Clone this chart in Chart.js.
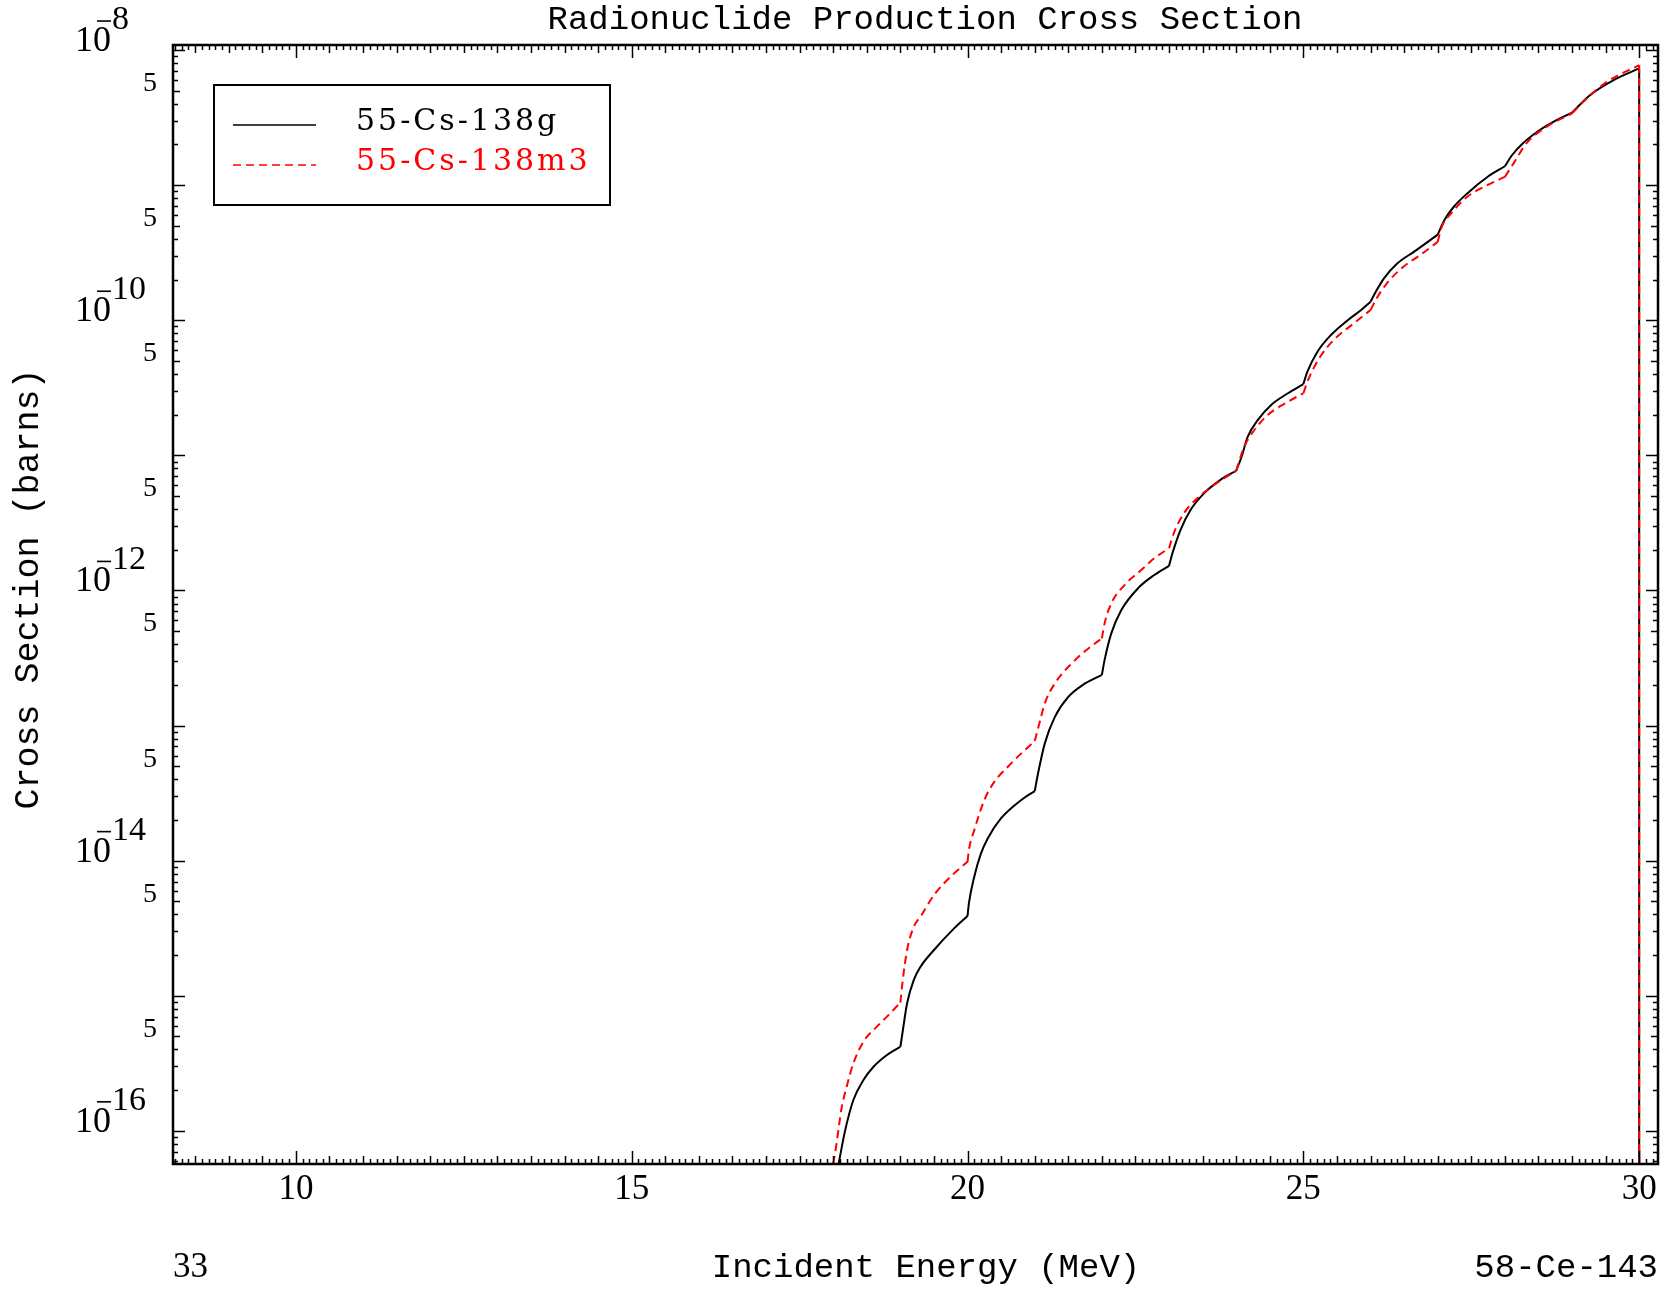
<!DOCTYPE html>
<html>
<head>
<meta charset="utf-8">
<title>Radionuclide Production Cross Section</title>
<script src="https://cdn.jsdelivr.net/npm/chart.js@4.4.1/dist/chart.umd.min.js"></script>
<style>
  html, body { margin: 0; padding: 0; background: #fff; }
  canvas { display: block; }
</style>
</head>
<body>
<canvas id="xsChart" width="1674" height="1291"></canvas>
<script>
// Cross sections (barns) vs incident energy (MeV)
const energyG = [18.08, 18.18, 18.30, 18.45, 18.60, 18.80, 19.00,
    19.03, 19.10, 19.20, 19.30, 19.50, 19.80, 20.00,
    20.02, 20.10, 20.20, 20.30, 20.50, 20.80, 21.00,
    21.05, 21.15, 21.30, 21.50, 21.75, 22.00,
    22.04, 22.14, 22.29, 22.54, 22.78, 23.00,
    23.05, 23.17, 23.32, 23.52, 23.76, 24.00,
    24.08, 24.17, 24.32, 24.52, 24.77, 25.00,
    25.06, 25.21, 25.41, 25.66, 25.86, 26.00,
    26.08, 26.20, 26.40, 26.65, 27.00,
    27.10, 27.24, 27.44, 27.74, 28.00,
    28.10, 28.25, 28.52, 28.77, 29.00,
    29.27, 29.62, 30.00, 30.00];
const sigmaG = [5.7e-17, 1.02e-16, 1.69e-16, 2.38e-16, 2.98e-16, 3.64e-16, 4.19e-16,
    5.27e-16, 8.8e-16, 1.31e-15, 1.64e-15, 2.18e-15, 3.15e-15, 3.89e-15,
    4.83e-15, 7.6e-15, 1.13e-14, 1.46e-14, 2.06e-14, 2.81e-14, 3.27e-14,
    4.43e-14, 7.38e-14, 1.16e-13, 1.63e-13, 2.05e-13, 2.37e-13,
    3.05e-13, 4.81e-13, 7.16e-13, 1.04e-12, 1.30e-12, 1.52e-12,
    1.88e-12, 2.80e-12, 3.94e-12, 5.23e-12, 6.56e-12, 7.69e-12,
    9.77e-12, 1.37e-11, 1.82e-11, 2.36e-11, 2.88e-11, 3.37e-11,
    4.16e-11, 5.85e-11, 7.77e-11, 1.0e-10, 1.19e-10, 1.37e-10,
    1.63e-10, 2.04e-10, 2.64e-10, 3.22e-10, 4.3e-10,
    5.52e-10, 6.92e-10, 8.69e-10, 1.15e-9, 1.38e-9,
    1.65e-9, 2.0e-9, 2.56e-9, 3.03e-9, 3.44e-9,
    4.65e-9, 6.0e-9, 7.31e-9, 1e-22];

const energyM = [18.00, 18.05, 18.12, 18.20, 18.30, 18.45, 18.65, 18.80, 19.00,
    19.03, 19.10, 19.20, 19.30, 19.50, 19.80, 20.00,
    20.02, 20.10, 20.25, 20.40, 20.60, 20.80, 21.00,
    21.07, 21.15, 21.30, 21.55, 21.80, 22.00,
    22.04, 22.14, 22.34, 22.59, 22.78, 23.00,
    23.07, 23.22, 23.42, 23.67, 24.00,
    24.12, 24.27, 24.47, 24.77, 25.00,
    25.07, 25.25, 25.45, 25.75, 26.00,
    26.09, 26.24, 26.49, 26.74, 27.00,
    27.06, 27.20, 27.44, 27.74, 28.00,
    28.13, 28.32, 28.62, 29.00,
    29.22, 29.52, 30.00, 30.00];
const sigmaM = [5.7e-17, 8.07e-17, 1.43e-16, 2.12e-16, 3.16e-16, 4.57e-16, 5.9e-16, 7.0e-16, 8.9e-16,
    1.24e-15, 2.18e-15, 3.24e-15, 3.85e-15, 5.56e-15, 8.05e-15, 9.8e-15,
    1.2e-14, 1.68e-14, 2.81e-14, 3.84e-14, 4.95e-14, 6.22e-14, 7.67e-14,
    1.04e-13, 1.46e-13, 2.05e-13, 2.88e-13, 3.72e-13, 4.42e-13,
    5.70e-13, 8.02e-13, 1.10e-12, 1.42e-12, 1.73e-12, 2.05e-12,
    2.65e-12, 3.72e-12, 4.81e-12, 6.03e-12, 7.69e-12,
    1.16e-11, 1.54e-11, 1.99e-11, 2.49e-11, 2.88e-11,
    3.61e-11, 5.37e-11, 7.13e-11, 9.48e-11, 1.19e-10,
    1.45e-10, 1.87e-10, 2.49e-10, 3.04e-10, 3.8e-10,
    4.9e-10, 6.18e-10, 8.2e-10, 1.0e-9, 1.15e-9,
    1.45e-9, 2.04e-9, 2.70e-9, 3.40e-9,
    4.39e-9, 5.82e-9, 7.74e-9, 1e-22];

const seriesNames = ['55-Cs-138g', '55-Cs-138m3'];
const seriesColors = ['#000000', '#ff0000'];
const xTickValues = [10, 15, 20, 25, 30];
const yLabelExponents = [-16, -14, -12, -10, -8];
const xLimits = [8.17, 30.28];
const yLimits = [5.68e-17, 1.09e-8];

const chartTitle = 'Radionuclide Production Cross Section';
const xTitle = 'Incident Energy (MeV)';
const yTitle = 'Cross Section (barns)';
const footLeft = '33';
const footRight = '58-Ce-143';

const MONO = "'Liberation Mono', monospace";
const SERIF = "'Liberation Serif', serif";
const DASH = [8, 5];

// the curves have sharp kinks at whole MeV; smooth each piece between them separately
function splitAtKinks(xs, ys) {
    const parts = [];
    let cur = [];
    for (let i = 0; i < xs.length; i++) {
        const p = { x: xs[i], y: ys[i] };
        cur.push(p);
        const kink = i > 0 && i < xs.length - 1 && Math.abs(xs[i] - Math.round(xs[i])) < 1e-9;
        if (kink) {
            parts.push(cur);
            cur = [p];
        }
    }
    if (cur.length > 1) parts.push(cur);
    return parts;
}

function buildDatasets(xs, ys, idx) {
    return splitAtKinks(xs, ys).map(pts => ({
        label: seriesNames[idx],
        data: pts,
        borderColor: seriesColors[idx],
        borderWidth: 2,
        borderDash: idx === 1 ? DASH : [],
        pointRadius: 0,
        cubicInterpolationMode: pts.length > 2 ? 'monotone' : 'default',
        tension: 0,
        fill: false,
        order: idx === 1 ? 0 : 1
    }));
}

// frame, inward ticks, tick labels, titles and the boxed legend
const decorations = {
    id: 'decorations',
    afterDraw(chart) {
        const ctx = chart.ctx;
        const area = chart.chartArea;
        const xs = chart.scales.x;
        const ys = chart.scales.y;

        ctx.save();
        ctx.strokeStyle = '#000';
        ctx.fillStyle = '#000';

        // ticks on all four sides, pointing into the plot
        ctx.lineWidth = 1.5;
        ctx.beginPath();
        for (let i = Math.ceil(xs.min * 10); i <= Math.floor(xs.max * 10); i++) {
            const px = Math.round(xs.getPixelForValue(i / 10)) + 0.5;
            let len = 5;
            if (i % 50 === 0) len = 13;
            else if (i % 5 === 0) len = 8;
            ctx.moveTo(px, area.bottom); ctx.lineTo(px, area.bottom - len);
            ctx.moveTo(px, area.top); ctx.lineTo(px, area.top + len);
        }
        for (let e = -17; e <= -8; e++) {
            for (let k = 1; k <= 9; k++) {
                const v = k * Math.pow(10, e);
                if (v < ys.min || v > ys.max) continue;
                const py = Math.round(ys.getPixelForValue(v)) + 0.5;
                const len = k === 1 ? 12 : (k === 5 ? 7 : 5);
                ctx.moveTo(area.left, py); ctx.lineTo(area.left + len, py);
                ctx.moveTo(area.right, py); ctx.lineTo(area.right - len, py);
            }
        }
        ctx.stroke();

        // frame
        ctx.lineWidth = 2.5;
        ctx.strokeRect(area.left, area.top, area.right - area.left, area.bottom - area.top);

        // x tick labels
        ctx.font = '35px ' + SERIF;
        ctx.textAlign = 'center';
        ctx.textBaseline = 'middle';
        xTickValues.forEach(v => {
            ctx.fillText(String(v), xs.getPixelForValue(v), area.bottom + 26);
        });

        // y labels: 10 with exponent at even decades, "5" at each 5 x 10^n
        yLabelExponents.forEach(e => {
            const py = ys.getPixelForValue(Math.pow(10, e));
            ctx.font = '36px ' + SERIF;
            ctx.textAlign = 'right';
            ctx.textBaseline = 'alphabetic';
            ctx.fillText('10', 111, py + 1);
            ctx.font = '34px ' + SERIF;
            ctx.textAlign = 'left';
            ctx.fillText(String(Math.abs(e)), 112, py - 21);
            ctx.lineWidth = 1.6;
            ctx.beginPath();
            ctx.moveTo(97, py - 29); ctx.lineTo(111, py - 29);
            ctx.stroke();
        });
        ctx.font = '28px ' + SERIF;
        ctx.textAlign = 'right';
        ctx.textBaseline = 'middle';
        for (let e = -17; e <= -9; e++) {
            const v = 5 * Math.pow(10, e);
            if (v < ys.min || v > ys.max) continue;
            ctx.fillText('5', 157, ys.getPixelForValue(v) - 7);
        }

        // titles
        ctx.font = '34px ' + MONO;
        ctx.textAlign = 'center';
        ctx.textBaseline = 'middle';
        ctx.fillText(chartTitle, 925, 20);
        ctx.fillText(xTitle, 926, 1268);
        ctx.textAlign = 'right';
        ctx.fillText(footRight, area.right, 1268);
        ctx.font = '35px ' + SERIF;
        ctx.textAlign = 'left';
        ctx.fillText(footLeft, area.left, 1268);

        ctx.save();
        ctx.translate(29, 589);
        ctx.rotate(-Math.PI / 2);
        ctx.font = '35px ' + MONO;
        ctx.textAlign = 'center';
        ctx.textBaseline = 'middle';
        ctx.fillText(yTitle, 0, 0);
        ctx.restore();

        // legend box
        ctx.fillStyle = '#fff';
        ctx.fillRect(214, 85, 396, 120);
        ctx.lineWidth = 2;
        ctx.strokeStyle = '#000';
        ctx.strokeRect(214, 85, 396, 120);
        seriesNames.forEach((name, i) => {
            const ly = 125 + i * 40;
            ctx.strokeStyle = seriesColors[i];
            ctx.lineWidth = 1.5;
            ctx.setLineDash(i === 1 ? DASH : []);
            ctx.beginPath();
            ctx.moveTo(233, ly); ctx.lineTo(316, ly);
            ctx.stroke();
            ctx.setLineDash([]);
            ctx.fillStyle = seriesColors[i];
            ctx.font = "30px 'DejaVu Serif', serif";
            ctx.letterSpacing = '3px';
            ctx.textAlign = 'left';
            ctx.textBaseline = 'middle';
            ctx.fillText(name, 356, ly - 3);
            ctx.letterSpacing = '0px';
        });
        ctx.restore();
    }
};

const ctx = document.getElementById('xsChart').getContext('2d');
new Chart(ctx, {
    type: 'line',
    data: {
        datasets: buildDatasets(energyG, sigmaG, 0).concat(buildDatasets(energyM, sigmaM, 1))
    },
    options: {
        responsive: false,
        animation: false,
        devicePixelRatio: 1,
        layout: {
            padding: { left: 173, right: 16, top: 45, bottom: 127 }
        },
        plugins: {
            legend: { display: false },
            tooltip: { enabled: false }
        },
        scales: {
            x: {
                type: 'linear',
                min: xLimits[0],
                max: xLimits[1],
                bounds: 'data',
                display: false
            },
            y: {
                type: 'logarithmic',
                min: yLimits[0],
                max: yLimits[1],
                bounds: 'data',
                display: false
            }
        }
    },
    plugins: [decorations]
});
</script>
</body>
</html>
